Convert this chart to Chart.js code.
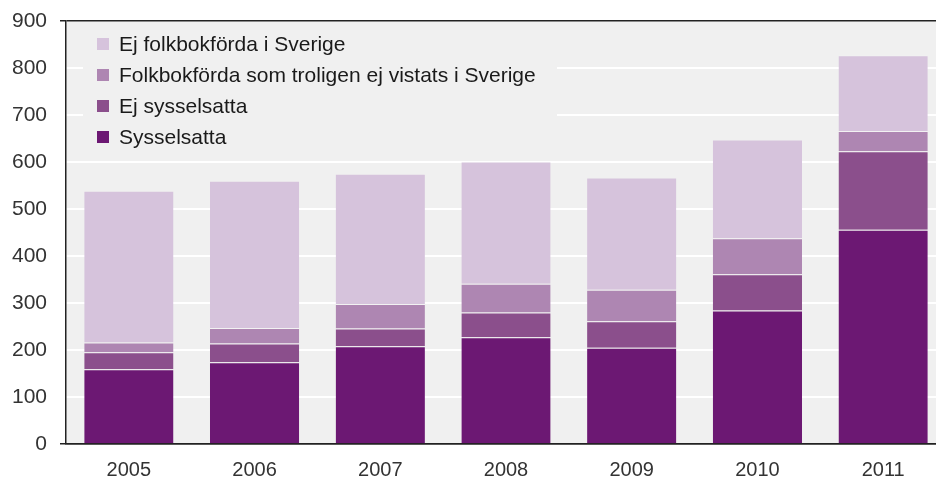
<!DOCTYPE html>
<html lang="sv">
<head>
    <meta charset="UTF-8">
    <title>Sysselsatta och ej sysselsatta</title>
    <script src="https://cdn.jsdelivr.net/npm/chart.js"></script>
    <style>
        html, body { margin: 0; padding: 0; background: #fff; overflow: hidden; }
        #wrap { width: 946px; height: 479px; }
    </style>
</head>
<body>
    <div id="wrap"><canvas id="chart" width="946" height="479"></canvas></div>

    <script>
        // data
        const years = ['2005', '2006', '2007', '2008', '2009', '2010', '2011'];
        const sysselsatta = [159, 174, 208, 227, 205, 284, 456];
        const ejSysselsatta = [36, 40, 38, 53, 56, 77, 167];
        const folkbokfordaEjVistats = [21, 33, 52, 61, 67, 77, 43];
        const ejFolkbokforda = [323, 313, 277, 260, 239, 210, 161];
        const yTicks = [0, 100, 200, 300, 400, 500, 600, 700, 800, 900];

        const FONT = '"Liberation Sans", Arial, sans-serif';

        // grey plot background
        const plotBg = {
            id: 'plotBg',
            beforeDraw(chart) {
                const a = chart.chartArea;
                const ctx = chart.ctx;
                ctx.save();
                ctx.fillStyle = '#f0f0f0';
                ctx.fillRect(a.left, a.top, a.right - a.left, a.bottom - a.top);
                ctx.restore();
            }
        };

        // legend drawn inside the plot, top left, covering the gridlines
        const innerLegend = {
            id: 'innerLegend',
            afterDatasetsDraw(chart) {
                const ctx = chart.ctx;
                const a = chart.chartArea;
                ctx.save();
                ctx.fillStyle = '#f0f0f0';
                ctx.fillRect(a.left + 17, a.top + 3, 474, 132);
                ctx.font = '21px ' + FONT;
                ctx.textBaseline = 'middle';
                const items = chart.data.datasets.slice().reverse();
                items.forEach((ds, i) => {
                    const y = a.top + 23 + i * 31;
                    ctx.fillStyle = ds.backgroundColor;
                    ctx.fillRect(a.left + 31, y - 6, 12, 12);
                    ctx.fillStyle = '#1a1a1a';
                    ctx.fillText(ds.label, a.left + 53, y + 1);
                });
                ctx.restore();
            }
        };

        const ctx = document.getElementById('chart').getContext('2d');
        const chart = new Chart(ctx, {
            type: 'bar',
            data: {
                labels: years,
                datasets: [
                    { label: 'Sysselsatta', data: sysselsatta, backgroundColor: '#6c1873' },
                    { label: 'Ej sysselsatta', data: ejSysselsatta, backgroundColor: '#8b4f8c' },
                    { label: 'Folkbokförda som troligen ej vistats i Sverige', data: folkbokfordaEjVistats, backgroundColor: '#ae86b2' },
                    { label: 'Ej folkbokförda i Sverige', data: ejFolkbokforda, backgroundColor: '#d6c3dc' }
                ]
            },
            options: {
                responsive: false,
                animation: false,
                layout: { padding: { top: 21, left: 0, right: 0, bottom: 0 } },
                datasets: {
                    bar: {
                        barPercentage: 0.71,
                        categoryPercentage: 1.0,
                        borderWidth: { top: 1, right: 0, bottom: 0, left: 0 },
                        borderColor: 'rgba(255,255,255,0.15)',
                        borderSkipped: 'bottom'
                    }
                },
                scales: {
                    x: {
                        stacked: true,
                        grid: { display: true, drawOnChartArea: false, drawTicks: false, color: 'rgba(0,0,0,0)' },
                        border: { display: true, color: '#222', width: 1.5 },
                        ticks: { color: '#333', font: { family: FONT, size: 20 }, padding: 14 },
                        afterFit(scale) { scale.height = 35; }
                    },
                    y: {
                        stacked: true,
                        min: 0,
                        max: 900,
                        afterBuildTicks(scale) { scale.ticks = yTicks.map(v => ({ value: v })); },
                        grid: {
                            color: c => (c.tick && (c.tick.value === 0 || c.tick.value === 900)) ? '#222' : '#ffffff',
                            lineWidth: c => (c.tick && (c.tick.value === 0 || c.tick.value === 900)) ? 1.5 : 2,
                            tickLength: 6
                        },
                        border: { display: true, color: '#222', width: 1.5 },
                        ticks: { color: '#333', font: { family: FONT, size: 21 }, padding: 13 },
                        afterFit(scale) {
                            scale.width = 66;
                            scale.paddingTop = 0;
                            scale.paddingBottom = 0;
                        }
                    }
                },
                plugins: {
                    legend: { display: false },
                    tooltip: { enabled: false }
                }
            },
            plugins: [plotBg, innerLegend]
        });
    </script>
</body>
</html>
